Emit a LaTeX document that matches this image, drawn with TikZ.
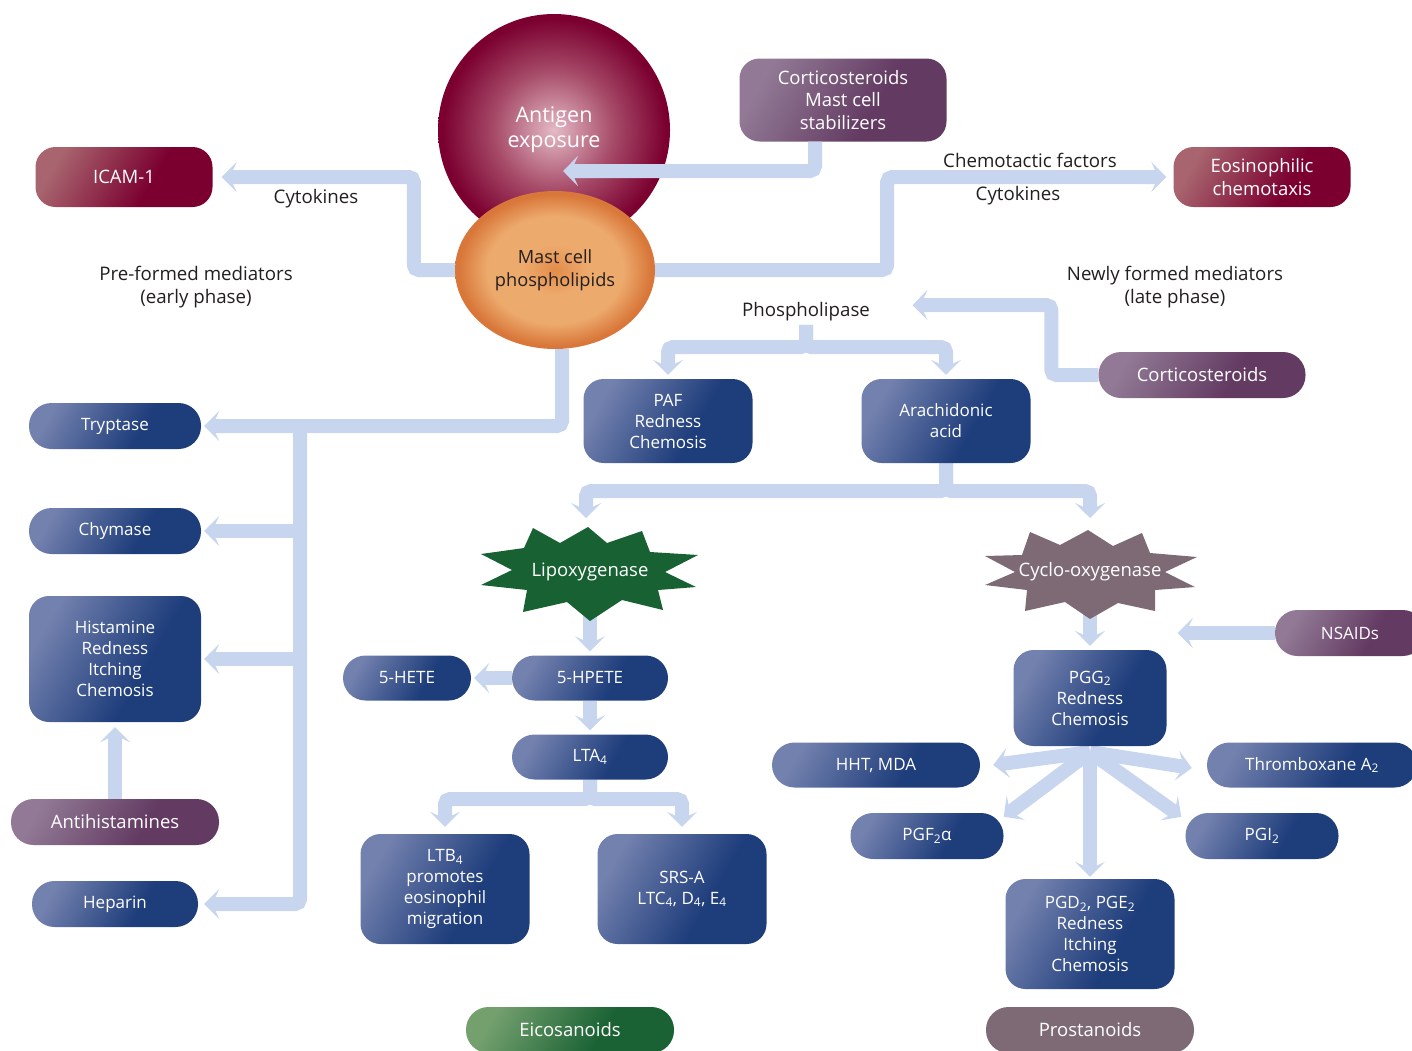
\documentclass[tikz,border=0pt]{standalone}
\usepackage{fontspec}
\setmainfont{Open Sans}
\usetikzlibrary{arrows.meta}
\usetikzlibrary{shapes.geometric}
\usetikzlibrary{backgrounds}

\definecolor{flowblue}{HTML}{C7D6EE}
\definecolor{bluelt}{HTML}{7381AE}
\definecolor{bluedk}{HTML}{1E3D7B}
\definecolor{purplt}{HTML}{927A96}
\definecolor{purpdk}{HTML}{633A62}
\definecolor{redlt}{HTML}{A8656F}
\definecolor{reddk}{HTML}{7B0030}
\definecolor{greenlt}{HTML}{74A06E}
\definecolor{greendk}{HTML}{1A6234}
\definecolor{lipgreen}{HTML}{186133}
\definecolor{mauve}{HTML}{7E6A75}
\definecolor{inkgray}{HTML}{231F20}
\definecolor{pinklt}{HTML}{E4BAC6}
\definecolor{pinkmid}{HTML}{A64A68}
\definecolor{orangedk}{HTML}{D9773A}
\definecolor{orangelt}{HTML}{EDAA6D}
\definecolor{orangemid}{HTML}{E28C4A}

\pgfdeclarehorizontalshading{blueshade}{100bp}{color(0bp)=(bluelt); color(25bp)=(bluelt); color(60bp)=(bluedk); color(100bp)=(bluedk)}
\pgfdeclarehorizontalshading{purpshade}{100bp}{color(0bp)=(purplt); color(25bp)=(purplt); color(60bp)=(purpdk); color(100bp)=(purpdk)}
\pgfdeclarehorizontalshading{redshade}{100bp}{color(0bp)=(redlt); color(25bp)=(redlt); color(60bp)=(reddk); color(100bp)=(reddk)}
\pgfdeclarehorizontalshading{greenshade}{100bp}{color(0bp)=(greenlt); color(25bp)=(greenlt); color(60bp)=(greendk); color(100bp)=(greendk)}
\pgfdeclareradialshading{antigenshade}{\pgfpoint{0bp}{0bp}}{color(0bp)=(pinklt); color(13bp)=(pinkmid); color(24bp)=(reddk); color(50bp)=(reddk)}
\pgfdeclareradialshading{mastshade}{\pgfpoint{0bp}{0bp}}{color(0bp)=(orangemid); color(8bp)=(orangelt); color(17bp)=(orangelt); color(24bp)=(orangedk); color(50bp)=(orangedk)}

\newcommand\boxfont{\fontsize{17}{21}\selectfont}
\newcommand\wideboxfont{\fontsize{18.5}{22.5}\selectfont}
\newcommand\bigfont{\fontsize{21.5}{25}\selectfont}

\tikzset{
    flow/.style={draw=flowblue, line width=14pt, rounded corners=5pt,
        -{Stealth[length=15pt,width=30pt,inset=7pt]}},
    note/.style={text=inkgray, align=center, font=\fontsize{18.7}{23}\selectfont},
    tile/.style={text=white, align=center, inner sep=0pt, font=\wideboxfont,
        rounded corners=20pt},
    shaded tile/.style={tile, shade, shading angle=-30, shading=#1},
    bluebox/.style={shaded tile=blueshade, font=\boxfont},
    purpbox/.style={shaded tile=purpshade},
    redbox/.style={shaded tile=redshade},
    pill/.style={rounded corners=22.5pt, minimum height=46pt}
}

\begin{document}
\begin{tikzpicture}[x=1pt, y=-1pt]
    \useasboundingbox (0,0) rectangle (1412,1050);

    % antigen and mast cell
    \node[circle, minimum size=232pt, inner sep=0pt, shade, shading=antigenshade,
        text=white, align=center, font=\bigfont] (antigen) at (554,130) {Antigen\\exposure};

    % labels
    \node[note] (cytoA) at (316,199) {Cytokines};
    \node[note] (preformed) at (196,287) {Pre-formed mediators\\(early phase)};
    \node[note] (chemo) at (1030,160) {Chemotactic factors};
    \node[note] (cytoB) at (1018,196) {Cytokines};
    \node[note] (newly) at (1175,287) {Newly formed mediators\\(late phase)};
    \node[note] (phospho) at (806,312) {Phospholipase};

    % boxes
    \node[redbox, minimum width=177pt, minimum height=60pt] (icam) at (124,177) {ICAM-1};
    \node[purpbox, minimum width=207pt, minimum height=83pt] (cortms) at (843,100) {Corticosteroids\\Mast cell\\stabilizers};
    \node[redbox, minimum width=177pt, minimum height=60pt] (eos) at (1262,177) {Eosinophilic\\chemotaxis};
    \node[purpbox, pill, minimum width=207pt] (cort) at (1202,375) {Corticosteroids};

    \node[bluebox, pill, minimum width=172pt] (tryptase) at (115,426) {Tryptase};
    \node[bluebox, pill, minimum width=172pt] (chymase) at (115,531) {Chymase};
    \node[bluebox, minimum width=172pt, minimum height=126pt] (histamine) at (115,659) {Histamine\\Redness\\Itching\\Chemosis};
    \node[purpbox, pill, minimum width=208pt] (antihist) at (115,822) {Antihistamines};
    \node[bluebox, pill, minimum width=166pt] (heparin) at (115,904) {Heparin};

    \node[bluebox, minimum width=169pt, minimum height=84pt] (paf) at (668,421) {PAF\\Redness\\Chemosis};
    \node[bluebox, minimum width=169pt, minimum height=84pt] (arach) at (946,421) {Arachidonic\\acid};

    % lipoxygenase branch
    \fill[lipgreen] (481,554) -- (524,548) -- (533,528) -- (560,543) -- (588,527) -- (607,543)
        -- (642,531) -- (650,552) -- (698,555) -- (665,572) -- (696,587) -- (658,590)
        -- (663,610) -- (622,600) -- (590,621) -- (567,602) -- (523,612) -- (527,590)
        -- (481,585) -- (512,570) -- cycle;
    \node[text=white, font=\wideboxfont] (lipox) at (590,572) {Lipoxygenase};
    \node[bluebox, pill, minimum width=128pt, minimum height=45pt] (hete) at (407,678) {5-HETE};
    \node[bluebox, pill, minimum width=156pt, minimum height=45pt] (hpete) at (590,678) {5-HPETE};
    \node[bluebox, pill, minimum width=156pt, minimum height=45pt] (lta) at (590,757) {LTA\textsubscript{4}};
    \node[bluebox, minimum width=169pt, minimum height=110pt] (ltb) at (445,889) {LTB\textsubscript{4}\\promotes\\eosinophil\\migration};
    \node[bluebox, minimum width=169pt, minimum height=110pt] (srs) at (682,889) {SRS-A\\LTC\textsubscript{4}, D\textsubscript{4}, E\textsubscript{4}};
    \node[shaded tile=greenshade, pill, minimum width=208pt] (eico) at (570,1030) {Eicosanoids};

    % cyclo-oxygenase branch
    \fill[mauve] (985,556) -- (1022,555) -- (1030,532) -- (1060,545) -- (1088,530) -- (1113,546)
        -- (1142,533) -- (1150,553) -- (1197,557) -- (1165,572) -- (1195,587) -- (1155,590)
        -- (1155,611) -- (1118,603) -- (1090,619) -- (1065,602) -- (1025,611) -- (1027,590)
        -- (985,585) -- (1015,572) -- cycle;
    \node[text=white, font=\wideboxfont] (cyclo) at (1090,572) {Cyclo-oxygenase};
    \node[purpbox, pill, minimum width=150pt, font=\boxfont] (nsaid) at (1350,633) {NSAIDs};
    \node[bluebox, minimum width=153pt, minimum height=96pt] (pgg) at (1090,698) {PGG\textsubscript{2}\\Redness\\Chemosis};
    \node[bluebox, pill, minimum width=208pt, minimum height=45pt] (hht) at (876,765) {HHT, MDA};
    \node[bluebox, pill, minimum width=210pt, minimum height=45pt] (thromb) at (1312,765) {Thromboxane A\textsubscript{2}};
    \node[bluebox, pill, minimum width=153pt] (pgf) at (927,836) {PGF\textsubscript{2}α};
    \node[bluebox, pill, minimum width=153pt] (pgi) at (1262,836) {PGI\textsubscript{2}};
    \node[bluebox, minimum width=169pt, minimum height=110pt] (pgd) at (1090,934) {PGD\textsubscript{2}, PGE\textsubscript{2}\\Redness\\Itching\\Chemosis};
    \node[tile, fill=mauve, pill, minimum width=208pt] (prost) at (1090,1030) {Prostanoids};

    % stabilizers onto the antigen
    \draw[flow] ([xshift=-28pt]cortms.south) |- ([shift={(9,41)}]antigen.center);

    \node[ellipse, minimum width=200pt, minimum height=158pt, inner sep=0pt, shade, shading=mastshade,
        text=inkgray, align=center, font=\fontsize{18.2}{23}\selectfont] (mast) at (555,270) {Mast cell\\phospholipids};

    \begin{pgfonlayer}{background}
        \draw[flow] (mast.west) -- ++(-41,0) |- ([xshift=9pt]icam.east);
        \draw[flow] (mast.east) -- ++(232,0) |- ([xshift=-7pt]eos.west);

        % pre-formed mediators
        \coordinate (bus) at (300,426);
        \draw[flow] ([xshift=7pt]mast.south) |- ([xshift=3pt]tryptase.east);
        \draw[flow] (bus) |- ([xshift=6pt]heparin.east);
        \draw[flow] (bus |- chymase) -- ([xshift=3pt]chymase.east);
        \draw[flow] (bus |- histamine) -- ([xshift=3pt]histamine.east);
        \draw[flow] (antihist.north) -- ([yshift=-5pt]histamine.south);

        % newly formed mediators
        \coordinate (plsplit) at (806,347);
        \draw[flow] (phospho.south) -- (plsplit) -| ([yshift=4pt]paf.north);
        \draw[flow] (phospho.south) -- (plsplit) -| ([yshift=4pt]arach.north);
        \draw[flow] (cort.west) -- ++(-47,0) |- ([shift={(39,-7)}]phospho.east);

        \coordinate (aasplit) at (946,491);
        \coordinate (liptip) at (586,518);
        \coordinate (cyctip) at (1090,518);
        \draw[flow] (arach.south) -- (aasplit) -| (liptip);
        \draw[flow] (arach.south) -- (aasplit) -| (cyctip);

        \draw[flow] (lipox.center -| lta) -- ([yshift=4pt]hpete.north);
        \draw[flow] (hpete.west) -- ([xshift=3pt]hete.east);
        \draw[flow] (hpete.south) -- ([yshift=4pt]lta.north);
        \coordinate (ltsplit) at (590,799);
        \draw[flow] (lta.south) -- (ltsplit) -| ([yshift=7pt]ltb.north);
        \draw[flow] (lta.south) -- (ltsplit) -| ([yshift=7pt]srs.north);

        \draw[flow] (cyclo.center) -- ([yshift=4pt]pgg.north);
        \draw[flow, shorten >=11pt] (nsaid.west) -- (nsaid.west -| pgg.east);
        \coordinate (fan) at (1090,752);
        \draw[flow] (fan) -- ([xshift=13pt]hht.east);
        \draw[flow] (fan) -- ([shift={(0,4)}]pgf.north east);
        \draw[flow] (fan) -- ([yshift=2pt]pgd.north);
        \draw[flow] (fan) -- ([shift={(-4,4)}]pgi.north west);
        \draw[flow] (fan) -- ([shift={(-15,3)}]thromb.west);
    \end{pgfonlayer}
\end{tikzpicture}
\end{document}
